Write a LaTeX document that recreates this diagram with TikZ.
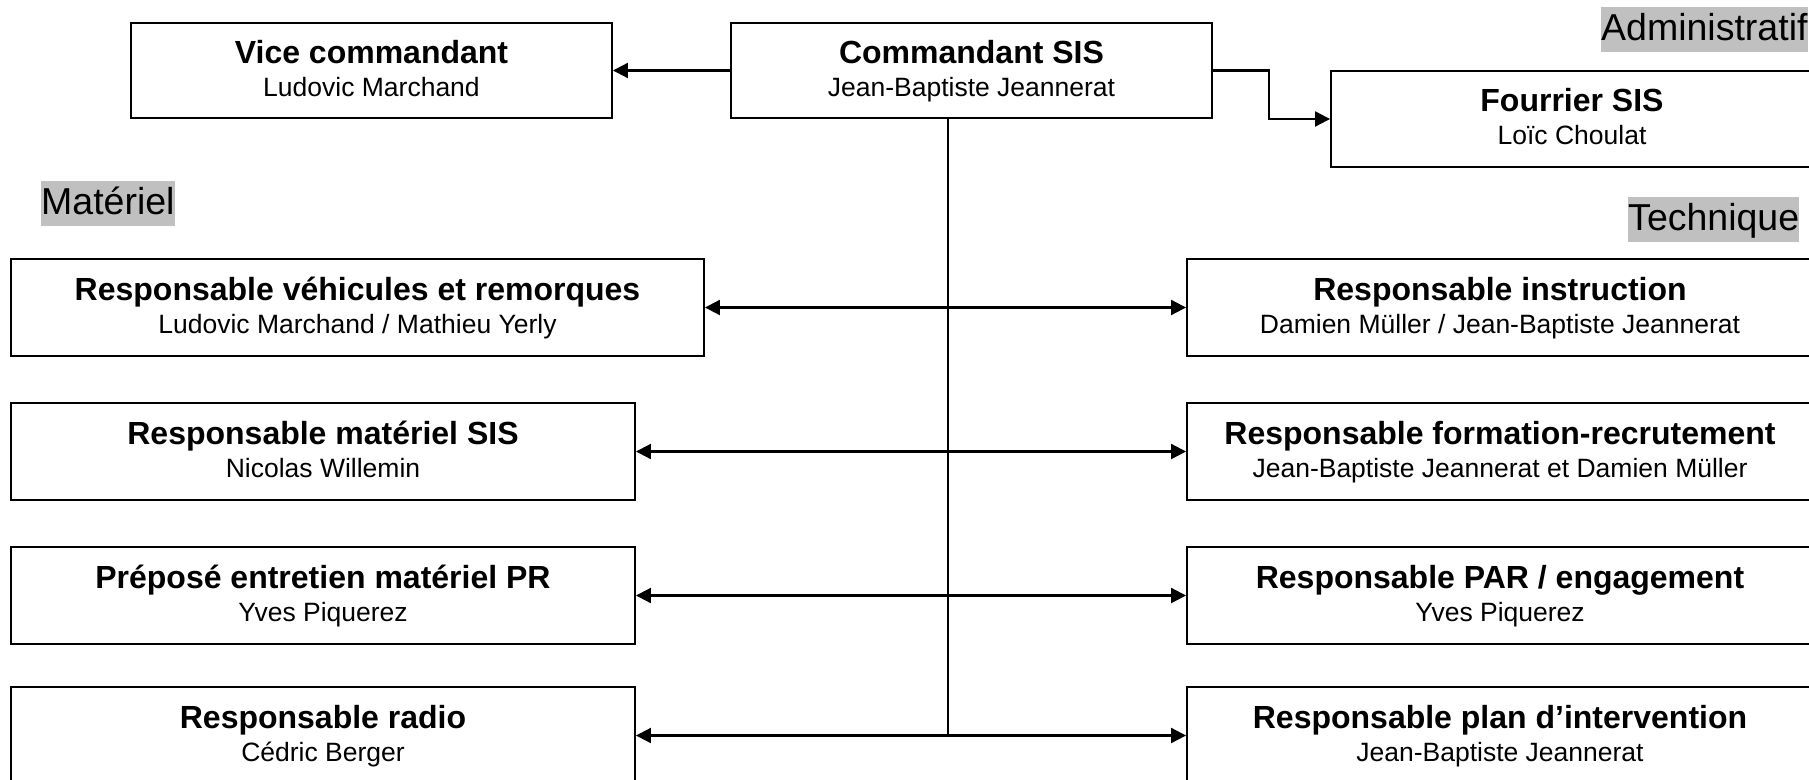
\documentclass[tikz,border=0pt]{standalone}
\usepackage{fontspec}
\setmainfont{Liberation Sans}
\usetikzlibrary{arrows.meta}
\definecolor{lblgray}{RGB}{192,192,192}
\newcommand\mystrut{\rule[-7.5pt]{0pt}{33pt}}
\newcommand\boxtext[2]{{\bfseries\fontsize{32}{33}\selectfont\mystrut #1}\\{\fontsize{26.5}{33}\selectfont\mystrut #2}}
\begin{document}
\begin{tikzpicture}[x=1pt,y=-1pt,
  orgbox/.style={draw, line width=1.9pt, align=center, inner sep=0pt, minimum height=96pt, font=\fontsize{26.5}{33}\selectfont},
  grouplabel/.style={fill=lblgray, inner sep=0pt, text height=33pt, text depth=12pt, font=\fontsize{37.5}{40}\selectfont},
  arr/.style={line width=2.1pt, -{Triangle[length=15pt,width=15pt]}},
  biarr/.style={line width=2.1pt, {Triangle[length=15pt,width=15pt]}-{Triangle[length=15pt,width=15pt]}},
  trunkline/.style={line width=1.4pt}]
\useasboundingbox (0,0) rectangle (1809,779);

% top row
\node[orgbox, minimum width=481pt, minimum height=95pt] (vice) at (371.5,70.5) {\boxtext{Vice commandant}{Ludovic Marchand}};
\node[orgbox, minimum width=481pt, minimum height=95pt] (cmd) at (971.5,70.5) {\boxtext{Commandant SIS}{Jean-Baptiste Jeannerat}};
\node[orgbox, minimum width=482pt] (four) at (1572,119) {\boxtext{Fourrier SIS}{Loïc Choulat}};

% group labels
\node[grouplabel, anchor=north west] (ladmin) at (1601,7) {Administratif};
\node[grouplabel, anchor=north west] (lmat) at (41,181) {Matériel};
\node[grouplabel, anchor=north west] (ltech) at (1628,197) {Technique};

% left column
\node[orgbox, minimum width=693pt, minimum height=97pt] (L1) at (357.5,307.5) {\boxtext{Responsable véhicules et remorques}{Ludovic Marchand / Mathieu Yerly}};
\node[orgbox, minimum width=624pt, minimum height=97pt] (L2) at (323,451.5) {\boxtext{Responsable matériel SIS}{Nicolas Willemin}};
\node[orgbox, minimum width=624pt, minimum height=97pt] (L3) at (323,595.5) {\boxtext{Préposé entretien matériel PR}{Yves Piquerez}};
\node[orgbox, minimum width=624pt, minimum height=97pt] (L4) at (323,735.5) {\boxtext{Responsable radio}{Cédric Berger}};

% right column
\node[orgbox, minimum width=626pt, minimum height=97pt] (R1) at (1500,307.5) {\boxtext{Responsable instruction}{Damien Müller / Jean-Baptiste Jeannerat}};
\node[orgbox, minimum width=626pt, minimum height=97pt] (R2) at (1500,451.5) {\boxtext{Responsable formation-recrutement}{Jean-Baptiste Jeannerat et Damien Müller}};
\node[orgbox, minimum width=626pt, minimum height=97pt] (R3) at (1500,595.5) {\boxtext{Responsable PAR / engagement}{Yves Piquerez}};
\node[orgbox, minimum width=626pt, minimum height=97pt] (R4) at (1500,735.5) {\boxtext{Responsable plan d’intervention}{Jean-Baptiste Jeannerat}};

% connectors
\draw[arr] (cmd.west) -- (vice.east);
\draw[arr] (cmd.east) -- ++(56,0) |- (four.west);
\coordinate (trunk) at (948,0);
\draw[trunkline] (trunk |- cmd.south) -- (trunk |- L4.east);
\draw[biarr] (L1.east) -- (R1.west);
\draw[biarr] (L2.east) -- (R2.west);
\draw[biarr] (L3.east) -- (R3.west);
\draw[biarr] (L4.east) -- (R4.west);
\end{tikzpicture}
\end{document}
